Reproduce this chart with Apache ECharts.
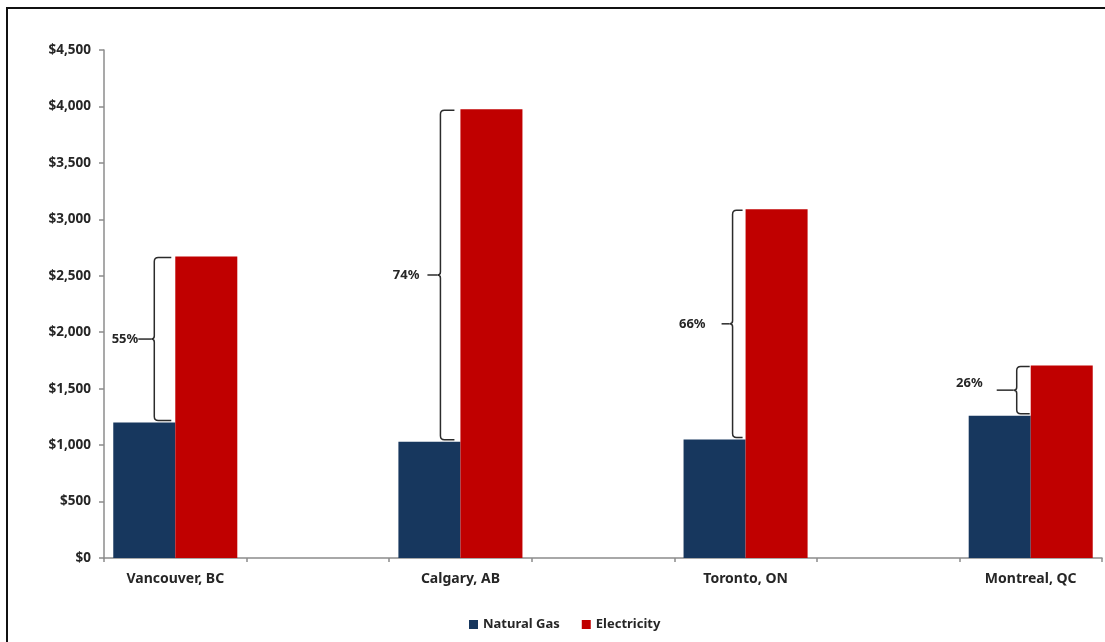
<!DOCTYPE html>
<html>
<head>
<meta charset="utf-8">
<title>Annual Heating Cost: Natural Gas vs Electricity</title>
<script src="https://cdn.jsdelivr.net/npm/echarts@6/dist/echarts.min.js"></script>
<style>
  html, body { margin: 0; padding: 0; background: #fff; }
  #chart { width: 1105px; height: 642px; }
</style>
</head>
<body>
<div id="chart"></div>
<script>
// Cities and annual heating cost by fuel
const cities = ['Vancouver, BC', 'Calgary, AB', 'Toronto, ON', 'Montreal, QC'];
const naturalGas = [1200, 1030, 1050, 1260];
const electricity = [2670, 3975, 3090, 1705];
// Premium of electricity over natural gas, as labelled beside each brace
const premiumPct = [55, 74, 66, 26];

// Value-axis ticks
const yMin = 0, yMax = 4500, yStep = 500;

// Each city sits in its own slot with an empty slot between cities
const slots = [];
const gasSlots = [];
const elecSlots = [];
const braceData = [];
cities.forEach((c, i) => {
  if (i > 0) { slots.push(''); gasSlots.push(null); elecSlots.push(null); }
  const s = slots.length;
  slots.push(c);
  gasSlots.push(naturalGas[i]);
  elecSlots.push(electricity[i]);
  braceData.push([s, naturalGas[i], electricity[i], premiumPct[i], i]);
});

// Per-brace geometry: spine offset left of the bar edge, hook end gap,
// dash length, gap before text, vertical nudge of the text
const braceLabelStyle = [
  { spine: 21, hook: 4, dash: 13, gap: 0, dy: 0 },
  { spine: 20, hook: 6, dash: 10, gap: 8, dy: 0 },
  { spine: 13, hook: 3, dash: 8, gap: 16, dy: 0 },
  { spine: 14, hook: 1, dash: 17, gap: 14, dy: -7 }
];

const NAVY = '#17375E';
const RED = '#C00000';
const AXIS = '#8C8C8C';
const TEXT = '#262626';
const FONT = '"Noto Sans", "Open Sans", sans-serif';

function renderBrace(params, api) {
  const slot = api.value(0);
  const low = api.value(1);
  const high = api.value(2);
  const pct = api.value(3);
  const idx = api.value(4);
  const st = braceLabelStyle[idx];
  const pTop = api.coord([slot, high]);
  const pBot = api.coord([slot, low]);
  const cx = pTop[0];
  const yTop = pTop[1] + 1;
  const yBot = pBot[1] - 2;
  const yMid = (yTop + yBot) / 2;
  const vx = cx - st.spine;
  const hx = cx - st.hook;
  const r = 4;
  const tip = 3;
  const path =
    'M' + hx + ' ' + yTop +
    ' L' + (vx + r) + ' ' + yTop +
    ' Q' + vx + ' ' + yTop + ' ' + vx + ' ' + (yTop + r) +
    ' L' + vx + ' ' + (yMid - 3) +
    ' Q' + vx + ' ' + yMid + ' ' + (vx - tip) + ' ' + yMid +
    ' Q' + vx + ' ' + yMid + ' ' + vx + ' ' + (yMid + 3) +
    ' L' + vx + ' ' + (yBot - r) +
    ' Q' + vx + ' ' + yBot + ' ' + (vx + r) + ' ' + yBot +
    ' L' + hx + ' ' + yBot;
  const dashEnd = vx - tip;
  const dashStart = dashEnd - st.dash;
  return {
    type: 'group',
    children: [
      {
        type: 'path',
        shape: { pathData: path },
        style: { fill: 'none', stroke: '#2b2b2b', lineWidth: 1.5 }
      },
      {
        type: 'line',
        shape: { x1: dashStart, y1: yMid, x2: dashEnd, y2: yMid },
        style: { stroke: '#2b2b2b', lineWidth: 1.5 }
      },
      {
        type: 'text',
        x: dashStart - st.gap,
        y: yMid + st.dy,
        style: {
          text: pct + '%',
          align: 'right',
          verticalAlign: 'middle',
          fill: TEXT,
          font: 'bold 13px ' + FONT
        }
      }
    ]
  };
}

const chart = echarts.init(document.getElementById('chart'), null, { renderer: 'canvas' });

chart.setOption({
  backgroundColor: '#ffffff',
  animation: false,
  textStyle: { fontFamily: FONT },
  graphic: [
    {
      type: 'rect',
      shape: { x: 7, y: 8, width: 1200, height: 700 },
      style: { fill: 'none', stroke: '#111111', lineWidth: 2 },
      silent: true
    }
  ],
  legend: {
    data: ['Natural Gas', 'Electricity'],
    left: 464,
    top: 613,
    icon: 'rect',
    itemWidth: 9,
    itemHeight: 9,
    itemGap: 22,
    textStyle: { fontFamily: FONT, fontWeight: 'bold', fontSize: 13, color: TEXT, padding: [0, 0, 0, 0] }
  },
  grid: { left: 104, right: 3, top: 50, bottom: 84, containLabel: false },
  xAxis: {
    type: 'category',
    data: slots,
    boundaryGap: true,
    axisLine: { show: true, lineStyle: { color: AXIS, width: 1.5 } },
    axisTick: { show: true, length: 4, interval: 0, lineStyle: { color: AXIS, width: 1.5 } },
    axisLabel: {
      interval: 0,
      margin: 14,
      fontFamily: FONT,
      fontWeight: 'bold',
      fontSize: 14,
      color: TEXT
    },
    splitLine: { show: false }
  },
  yAxis: {
    type: 'value',
    min: yMin,
    max: yMax,
    interval: yStep,
    axisLine: { show: true, lineStyle: { color: AXIS, width: 1.5 } },
    axisTick: { show: true, length: 5, lineStyle: { color: AXIS, width: 1.5 } },
    axisLabel: {
      margin: 13,
      fontFamily: FONT,
      fontWeight: 'bold',
      fontSize: 13.5,
      color: TEXT,
      formatter: v => '$' + v.toLocaleString('en-US')
    },
    splitLine: { show: false }
  },
  series: [
    {
      name: 'Natural Gas',
      type: 'bar',
      data: gasSlots,
      barGap: '0%',
      barCategoryGap: '13%',
      itemStyle: { color: NAVY }
    },
    {
      name: 'Electricity',
      type: 'bar',
      data: elecSlots,
      barGap: '0%',
      barCategoryGap: '13%',
      itemStyle: { color: RED }
    },
    {
      name: 'Premium',
      type: 'custom',
      renderItem: renderBrace,
      data: braceData,
      encode: { x: 0, y: [1, 2] },
      clip: false,
      z: 5,
      silent: true
    }
  ]
});
</script>
</body>
</html>
